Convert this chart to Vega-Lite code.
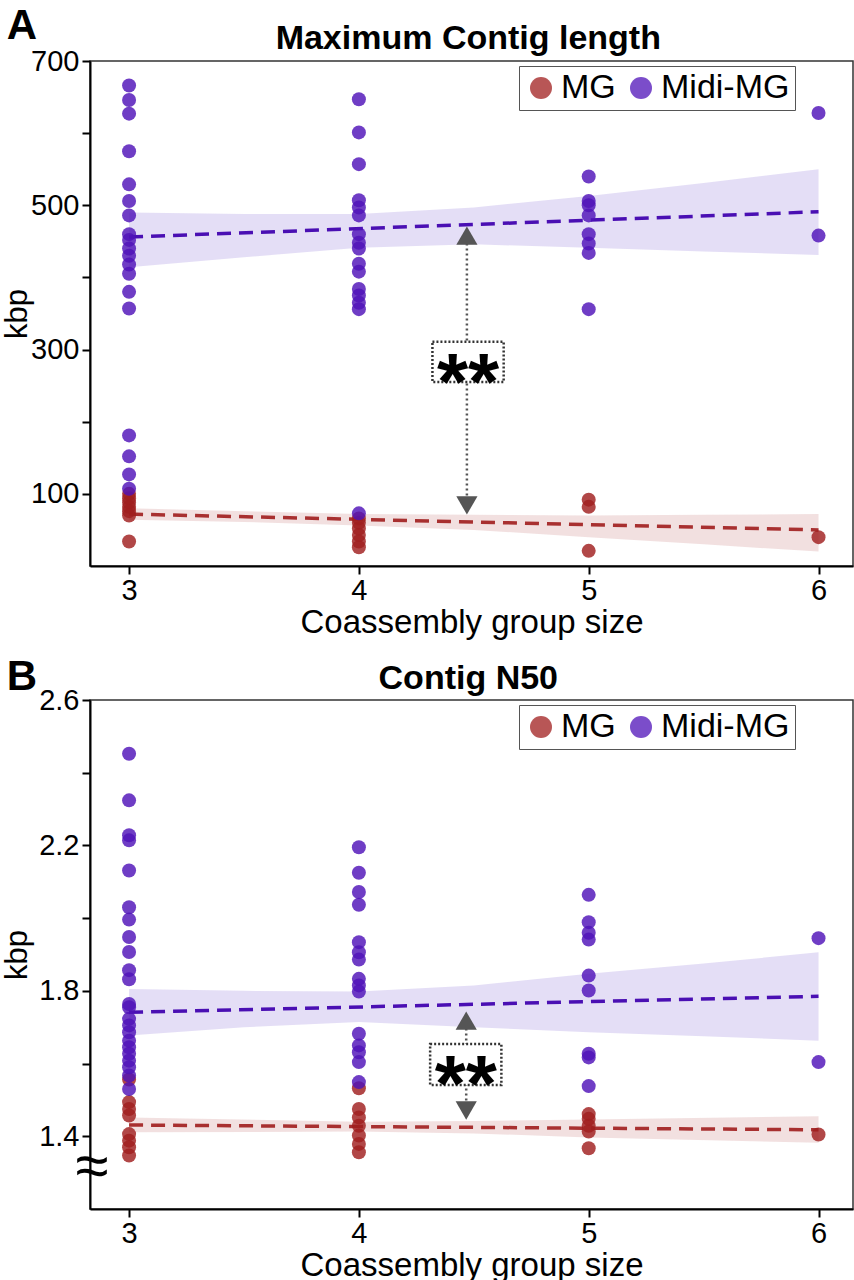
{
  "$schema": "https://vega.github.io/schema/vega-lite/v6.json",
  "padding": {"left": 0, "top": 4, "right": 0, "bottom": 0},
  "datasets": {
    "ptsA": [
      {"x":3,"y":100,"series":"MG"},{"x":3,"y":94,"series":"MG"},{"x":3,"y":88,"series":"MG"},{"x":3,"y":82,"series":"MG"},{"x":3,"y":76,"series":"MG"},{"x":3,"y":70,"series":"MG"},{"x":3,"y":34,"series":"MG"},
      {"x":4,"y":66,"series":"MG"},{"x":4,"y":60,"series":"MG"},{"x":4,"y":52,"series":"MG"},{"x":4,"y":43,"series":"MG"},{"x":4,"y":34,"series":"MG"},{"x":4,"y":26,"series":"MG"},
      {"x":5,"y":92,"series":"MG"},{"x":5,"y":82,"series":"MG"},{"x":5,"y":21,"series":"MG"},
      {"x":6,"y":40,"series":"MG"},
      {"x":3,"y":666,"series":"Midi-MG"},{"x":3,"y":646,"series":"Midi-MG"},{"x":3,"y":627,"series":"Midi-MG"},{"x":3,"y":575,"series":"Midi-MG"},{"x":3,"y":529,"series":"Midi-MG"},{"x":3,"y":506,"series":"Midi-MG"},{"x":3,"y":486,"series":"Midi-MG"},{"x":3,"y":460,"series":"Midi-MG"},{"x":3,"y":452,"series":"Midi-MG"},{"x":3,"y":440,"series":"Midi-MG"},{"x":3,"y":430,"series":"Midi-MG"},{"x":3,"y":418,"series":"Midi-MG"},{"x":3,"y":405,"series":"Midi-MG"},{"x":3,"y":380,"series":"Midi-MG"},{"x":3,"y":357,"series":"Midi-MG"},{"x":3,"y":181,"series":"Midi-MG"},{"x":3,"y":152,"series":"Midi-MG"},{"x":3,"y":127,"series":"Midi-MG"},{"x":3,"y":107,"series":"Midi-MG"},
      {"x":4,"y":647,"series":"Midi-MG"},{"x":4,"y":601,"series":"Midi-MG"},{"x":4,"y":557,"series":"Midi-MG"},{"x":4,"y":507,"series":"Midi-MG"},{"x":4,"y":497,"series":"Midi-MG"},{"x":4,"y":486,"series":"Midi-MG"},{"x":4,"y":460,"series":"Midi-MG"},{"x":4,"y":448,"series":"Midi-MG"},{"x":4,"y":440,"series":"Midi-MG"},{"x":4,"y":419,"series":"Midi-MG"},{"x":4,"y":408,"series":"Midi-MG"},{"x":4,"y":384,"series":"Midi-MG"},{"x":4,"y":375,"series":"Midi-MG"},{"x":4,"y":365,"series":"Midi-MG"},{"x":4,"y":356,"series":"Midi-MG"},{"x":4,"y":73,"series":"Midi-MG"},
      {"x":5,"y":540,"series":"Midi-MG"},{"x":5,"y":506,"series":"Midi-MG"},{"x":5,"y":500,"series":"Midi-MG"},{"x":5,"y":486,"series":"Midi-MG"},{"x":5,"y":460,"series":"Midi-MG"},{"x":5,"y":447,"series":"Midi-MG"},{"x":5,"y":434,"series":"Midi-MG"},{"x":5,"y":356,"series":"Midi-MG"},
      {"x":6,"y":628,"series":"Midi-MG"},{"x":6,"y":458,"series":"Midi-MG"}
    ],
    "lineA": [
      {"x":3,"y":72,"series":"MG"},{"x":6,"y":50,"series":"MG"},
      {"x":3,"y":456,"series":"Midi-MG"},{"x":6,"y":491,"series":"Midi-MG"}
    ],
    "bandA": [
      {"x":3,"lo":64,"hi":80,"series":"MG"},{"x":3.5,"lo":61,"hi":76,"series":"MG"},{"x":4,"lo":56,"hi":72,"series":"MG"},{"x":4.5,"lo":50,"hi":71,"series":"MG"},{"x":5,"lo":40,"hi":70,"series":"MG"},{"x":5.5,"lo":30,"hi":71,"series":"MG"},{"x":6,"lo":20,"hi":72,"series":"MG"},
      {"x":3,"lo":414,"hi":490,"series":"Midi-MG"},{"x":3.5,"lo":428,"hi":488,"series":"Midi-MG"},{"x":4,"lo":441,"hi":488,"series":"Midi-MG"},{"x":4.5,"lo":446,"hi":497,"series":"Midi-MG"},{"x":5,"lo":441,"hi":513,"series":"Midi-MG"},{"x":5.5,"lo":436,"hi":531,"series":"Midi-MG"},{"x":6,"lo":431,"hi":550,"series":"Midi-MG"}
    ],
    "ptsB": [
      {"x":3,"y":1.556,"series":"MG"},{"x":3,"y":1.494,"series":"MG"},{"x":3,"y":1.475,"series":"MG"},{"x":3,"y":1.457,"series":"MG"},{"x":3,"y":1.406,"series":"MG"},{"x":3,"y":1.388,"series":"MG"},{"x":3,"y":1.370,"series":"MG"},{"x":3,"y":1.347,"series":"MG"},
      {"x":4,"y":1.532,"series":"MG"},{"x":4,"y":1.475,"series":"MG"},{"x":4,"y":1.452,"series":"MG"},{"x":4,"y":1.429,"series":"MG"},{"x":4,"y":1.402,"series":"MG"},{"x":4,"y":1.379,"series":"MG"},{"x":4,"y":1.356,"series":"MG"},
      {"x":5,"y":1.461,"series":"MG"},{"x":5,"y":1.448,"series":"MG"},{"x":5,"y":1.429,"series":"MG"},{"x":5,"y":1.413,"series":"MG"},{"x":5,"y":1.367,"series":"MG"},
      {"x":6,"y":1.405,"series":"MG"},
      {"x":3,"y":2.452,"series":"Midi-MG"},{"x":3,"y":2.324,"series":"Midi-MG"},{"x":3,"y":2.228,"series":"Midi-MG"},{"x":3,"y":2.214,"series":"Midi-MG"},{"x":3,"y":2.131,"series":"Midi-MG"},{"x":3,"y":2.030,"series":"Midi-MG"},{"x":3,"y":1.996,"series":"Midi-MG"},{"x":3,"y":1.948,"series":"Midi-MG"},{"x":3,"y":1.907,"series":"Midi-MG"},{"x":3,"y":1.857,"series":"Midi-MG"},{"x":3,"y":1.832,"series":"Midi-MG"},{"x":3,"y":1.764,"series":"Midi-MG"},{"x":3,"y":1.755,"series":"Midi-MG"},{"x":3,"y":1.723,"series":"Midi-MG"},{"x":3,"y":1.705,"series":"Midi-MG"},{"x":3,"y":1.686,"series":"Midi-MG"},{"x":3,"y":1.663,"series":"Midi-MG"},{"x":3,"y":1.645,"series":"Midi-MG"},{"x":3,"y":1.627,"series":"Midi-MG"},{"x":3,"y":1.608,"series":"Midi-MG"},{"x":3,"y":1.590,"series":"Midi-MG"},{"x":3,"y":1.567,"series":"Midi-MG"},{"x":3,"y":1.530,"series":"Midi-MG"},
      {"x":4,"y":2.195,"series":"Midi-MG"},{"x":4,"y":2.125,"series":"Midi-MG"},{"x":4,"y":2.072,"series":"Midi-MG"},{"x":4,"y":2.037,"series":"Midi-MG"},{"x":4,"y":1.934,"series":"Midi-MG"},{"x":4,"y":1.906,"series":"Midi-MG"},{"x":4,"y":1.886,"series":"Midi-MG"},{"x":4,"y":1.833,"series":"Midi-MG"},{"x":4,"y":1.815,"series":"Midi-MG"},{"x":4,"y":1.798,"series":"Midi-MG"},{"x":4,"y":1.682,"series":"Midi-MG"},{"x":4,"y":1.650,"series":"Midi-MG"},{"x":4,"y":1.631,"series":"Midi-MG"},{"x":4,"y":1.604,"series":"Midi-MG"},{"x":4,"y":1.549,"series":"Midi-MG"},
      {"x":5,"y":2.064,"series":"Midi-MG"},{"x":5,"y":1.989,"series":"Midi-MG"},{"x":5,"y":1.960,"series":"Midi-MG"},{"x":5,"y":1.941,"series":"Midi-MG"},{"x":5,"y":1.842,"series":"Midi-MG"},{"x":5,"y":1.801,"series":"Midi-MG"},{"x":5,"y":1.627,"series":"Midi-MG"},{"x":5,"y":1.617,"series":"Midi-MG"},{"x":5,"y":1.538,"series":"Midi-MG"},
      {"x":6,"y":1.945,"series":"Midi-MG"},{"x":6,"y":1.604,"series":"Midi-MG"}
    ],
    "lineB": [
      {"x":3,"y":1.431,"series":"MG"},{"x":6,"y":1.418,"series":"MG"},
      {"x":3,"y":1.741,"series":"Midi-MG"},{"x":6,"y":1.785,"series":"Midi-MG"}
    ],
    "bandB": [
      {"x":3,"lo":1.411,"hi":1.452,"series":"MG"},{"x":4,"lo":1.413,"hi":1.440,"series":"MG"},{"x":4.5,"lo":1.408,"hi":1.442,"series":"MG"},{"x":5,"lo":1.397,"hi":1.446,"series":"MG"},{"x":6,"lo":1.382,"hi":1.455,"series":"MG"},
      {"x":3,"lo":1.677,"hi":1.805,"series":"Midi-MG"},{"x":3.5,"lo":1.700,"hi":1.800,"series":"Midi-MG"},{"x":4,"lo":1.714,"hi":1.798,"series":"Midi-MG"},{"x":4.5,"lo":1.700,"hi":1.815,"series":"Midi-MG"},{"x":5,"lo":1.686,"hi":1.847,"series":"Midi-MG"},{"x":5.5,"lo":1.675,"hi":1.875,"series":"Midi-MG"},{"x":6,"lo":1.663,"hi":1.906,"series":"Midi-MG"}
    ]
  },
  "config": {
    "font": "Liberation Sans",
    "view": {"stroke": "#333333", "strokeWidth": 1.5},
    "axis": {"domainColor": "#000000", "domainWidth": 2, "tickColor": "#000000", "tickWidth": 2, "tickSize": 8, "labelFontSize": 29, "labelColor": "#000000", "titleFontSize": 33, "titleFontWeight": "normal", "titleColor": "#000000", "grid": false, "labelPadding": 3},
    "axisY": {"titleFontSize": 31}
  },
  "resolve": {"scale": {"x": "independent", "y": "independent", "color": "independent"}, "legend": {"color": "independent"}},
  "spacing": 15,
  "vconcat": [
    {
      "width": 763, "height": 505,
      "layer": [
        {"data": {"name": "bandA"}, "transform": [{"filter": "datum.series == 'Midi-MG'"}], "mark": {"type": "area", "color": "#7050d0", "fillOpacity": 0.19},
         "encoding": {
           "x": {"field": "x", "type": "quantitative", "scale": {"domain": [2.83, 6.15], "nice": false, "zero": false}, "axis": {"values": [3,4,5,6], "format": "d", "titlePadding": 1, "labelPadding": 2}, "title": "Coassembly group size"},
           "y": {"field": "lo", "type": "quantitative", "scale": {"domain": [0, 700], "nice": false}, "axis": {"values": [100,200,300,400,500,600,700], "labelExpr": "datum.value % 200 == 100 ? datum.label : ''", "minExtent": 59, "maxExtent": 59, "titlePadding": -2}, "title": "kbp"},
           "y2": {"field": "hi"}}},
        {"data": {"name": "bandA"}, "transform": [{"filter": "datum.series == 'MG'"}], "mark": {"type": "area", "color": "#b04040", "fillOpacity": 0.16},
         "encoding": {"x": {"field": "x", "type": "quantitative"}, "y": {"field": "lo", "type": "quantitative"}, "y2": {"field": "hi"}}},
        {"data": {"name": "lineA"}, "transform": [{"filter": "datum.series == 'Midi-MG'"}], "mark": {"type": "line", "color": "#4a0fb3", "strokeWidth": 3.5, "strokeDash": [14, 8]},
         "encoding": {"x": {"field": "x", "type": "quantitative"}, "y": {"field": "y", "type": "quantitative"}}},
        {"data": {"name": "lineA"}, "transform": [{"filter": "datum.series == 'MG'"}], "mark": {"type": "line", "color": "#a83030", "strokeWidth": 3.5, "strokeDash": [14, 8]},
         "encoding": {"x": {"field": "x", "type": "quantitative"}, "y": {"field": "y", "type": "quantitative"}}},
        {"data": {"name": "ptsA"}, "mark": {"type": "point", "filled": true, "size": 196, "opacity": 0.82},
         "encoding": {
           "x": {"field": "x", "type": "quantitative"},
           "y": {"field": "y", "type": "quantitative"},
           "color": {"field": "series", "type": "nominal", "scale": {"domain": ["MG","Midi-MG"], "range": ["#a01e1e","#4f12b8"]},
             "legend": {"title": null, "orient": "none", "legendX": 429, "legendY": 5, "direction": "horizontal", "strokeColor": "#555555", "padding": 5, "symbolSize": 484, "symbolType": "circle", "labelFontSize": 34, "labelColor": "#000000", "labelOffset": 3, "columnPadding": 8, "symbolOpacity": 0.75, "symbolStrokeWidth": 0, "fillColor": "#ffffff"}}
         }},
        {"data": {"values": [{}]}, "mark": {"type": "rule", "color": "#555555", "strokeWidth": 2.5, "strokeDash": [2, 3]},
         "encoding": {"x": {"datum": 4.47, "type": "quantitative"}, "y": {"datum": 84, "type": "quantitative"}, "y2": {"datum": 458}}},
        {"data": {"values": [{}]}, "mark": {"type": "point", "shape": "triangle-up", "filled": true, "size": 450, "color": "#555555", "opacity": 1},
         "encoding": {"x": {"datum": 4.47, "type": "quantitative"}, "y": {"datum": 458, "type": "quantitative"}}},
        {"data": {"values": [{}]}, "mark": {"type": "point", "shape": "triangle-down", "filled": true, "size": 450, "color": "#555555", "opacity": 1},
         "encoding": {"x": {"datum": 4.47, "type": "quantitative"}, "y": {"datum": 84, "type": "quantitative"}}},
        {"data": {"values": [{}]}, "mark": {"type": "rect", "fill": "#ffffff", "stroke": "#333333", "strokeWidth": 2.5, "strokeDash": [2, 2]},
         "encoding": {"x": {"datum": 4.32, "type": "quantitative"}, "x2": {"datum": 4.63}, "y": {"datum": 255, "type": "quantitative"}, "y2": {"datum": 311}}},
        {"data": {"values": [{}]}, "mark": {"type": "text", "text": "**", "fontSize": 80, "fontWeight": "bold", "color": "#000000", "align": "center", "baseline": "alphabetic", "dy": 47},
         "encoding": {"x": {"datum": 4.475, "type": "quantitative"}, "y": {"datum": 283, "type": "quantitative"}}},
        {"data": {"values": [{}]}, "mark": {"type": "text", "text": "Maximum Contig length", "fontSize": 34, "fontWeight": "bold", "color": "#000000", "align": "center", "baseline": "alphabetic", "clip": false},
         "encoding": {"x": {"datum": 4.476, "type": "quantitative"}, "y": {"datum": 717, "type": "quantitative"}}},
        {"data": {"values": [{}]}, "mark": {"type": "text", "text": "A", "fontSize": 42, "fontWeight": "bold", "color": "#000000", "align": "center", "baseline": "middle", "clip": false},
         "encoding": {"x": {"datum": 2.534, "type": "quantitative"}, "y": {"datum": 748, "type": "quantitative"}}}
      ]
    },
    {
      "width": 763, "height": 509,
      "layer": [
        {"data": {"name": "bandB"}, "transform": [{"filter": "datum.series == 'Midi-MG'"}], "mark": {"type": "area", "color": "#7050d0", "fillOpacity": 0.19},
         "encoding": {
           "x": {"field": "x", "type": "quantitative", "scale": {"domain": [2.83, 6.15], "nice": false, "zero": false}, "axis": {"values": [3,4,5,6], "format": "d", "titlePadding": 1, "labelPadding": 2}, "title": "Coassembly group size"},
           "y": {"field": "lo", "type": "quantitative", "scale": {"domain": [1.2, 2.6], "nice": false, "zero": false}, "axis": {"values": [1.4,1.6,1.8,2.0,2.2,2.4,2.6], "labelExpr": "(round(datum.value*10) % 4 == 2) ? format(datum.value, '.1f') : ''", "minExtent": 59, "maxExtent": 59, "titlePadding": -2}, "title": "kbp"},
           "y2": {"field": "hi"}}},
        {"data": {"name": "bandB"}, "transform": [{"filter": "datum.series == 'MG'"}], "mark": {"type": "area", "color": "#b04040", "fillOpacity": 0.16},
         "encoding": {"x": {"field": "x", "type": "quantitative"}, "y": {"field": "lo", "type": "quantitative"}, "y2": {"field": "hi"}}},
        {"data": {"name": "lineB"}, "transform": [{"filter": "datum.series == 'Midi-MG'"}], "mark": {"type": "line", "color": "#4a0fb3", "strokeWidth": 3.5, "strokeDash": [14, 8]},
         "encoding": {"x": {"field": "x", "type": "quantitative"}, "y": {"field": "y", "type": "quantitative"}}},
        {"data": {"name": "lineB"}, "transform": [{"filter": "datum.series == 'MG'"}], "mark": {"type": "line", "color": "#a83030", "strokeWidth": 3.5, "strokeDash": [14, 8]},
         "encoding": {"x": {"field": "x", "type": "quantitative"}, "y": {"field": "y", "type": "quantitative"}}},
        {"data": {"name": "ptsB"}, "mark": {"type": "point", "filled": true, "size": 196, "opacity": 0.82},
         "encoding": {
           "x": {"field": "x", "type": "quantitative"},
           "y": {"field": "y", "type": "quantitative"},
           "color": {"field": "series", "type": "nominal", "scale": {"domain": ["MG","Midi-MG"], "range": ["#a01e1e","#4f12b8"]},
             "legend": {"title": null, "orient": "none", "legendX": 429, "legendY": 5, "direction": "horizontal", "strokeColor": "#555555", "padding": 5, "symbolSize": 484, "symbolType": "circle", "labelFontSize": 34, "labelColor": "#000000", "labelOffset": 3, "columnPadding": 8, "symbolOpacity": 0.75, "symbolStrokeWidth": 0, "fillColor": "#ffffff"}}
         }},
        {"data": {"values": [{}]}, "mark": {"type": "rule", "color": "#555555", "strokeWidth": 2.5, "strokeDash": [2, 3]},
         "encoding": {"x": {"datum": 4.467, "type": "quantitative"}, "y": {"datum": 1.471, "type": "quantitative"}, "y2": {"datum": 1.718}}},
        {"data": {"values": [{}]}, "mark": {"type": "point", "shape": "triangle-up", "filled": true, "size": 450, "color": "#555555", "opacity": 1},
         "encoding": {"x": {"datum": 4.467, "type": "quantitative"}, "y": {"datum": 1.718, "type": "quantitative"}}},
        {"data": {"values": [{}]}, "mark": {"type": "point", "shape": "triangle-down", "filled": true, "size": 450, "color": "#555555", "opacity": 1},
         "encoding": {"x": {"datum": 4.467, "type": "quantitative"}, "y": {"datum": 1.471, "type": "quantitative"}}},
        {"data": {"values": [{}]}, "mark": {"type": "rect", "fill": "#ffffff", "stroke": "#333333", "strokeWidth": 2.5, "strokeDash": [2, 2]},
         "encoding": {"x": {"datum": 4.31, "type": "quantitative"}, "x2": {"datum": 4.62}, "y": {"datum": 1.541, "type": "quantitative"}, "y2": {"datum": 1.654}}},
        {"data": {"values": [{}]}, "mark": {"type": "text", "text": "**", "fontSize": 80, "fontWeight": "bold", "color": "#000000", "align": "center", "baseline": "alphabetic", "dy": 47},
         "encoding": {"x": {"datum": 4.465, "type": "quantitative"}, "y": {"datum": 1.5975, "type": "quantitative"}}},
        {"data": {"values": [{}]}, "mark": {"type": "text", "text": "≈", "fontSize": 60, "color": "#000000", "align": "center", "baseline": "middle", "clip": false},
         "encoding": {"x": {"datum": 2.84, "type": "quantitative"}, "y": {"datum": 1.312, "type": "quantitative"}}},
        {"data": {"values": [{}]}, "mark": {"type": "text", "text": "Contig N50", "fontSize": 34, "fontWeight": "bold", "color": "#000000", "align": "center", "baseline": "alphabetic", "clip": false},
         "encoding": {"x": {"datum": 4.476, "type": "quantitative"}, "y": {"datum": 2.630, "type": "quantitative"}}},
        {"data": {"values": [{}]}, "mark": {"type": "text", "text": "B", "fontSize": 42, "fontWeight": "bold", "color": "#000000", "align": "center", "baseline": "middle", "clip": false},
         "encoding": {"x": {"datum": 2.534, "type": "quantitative"}, "y": {"datum": 2.663, "type": "quantitative"}}}
      ]
    }
  ]
}
